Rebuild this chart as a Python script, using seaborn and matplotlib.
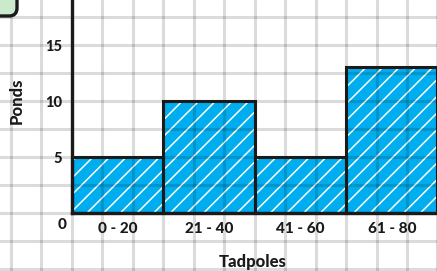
import numpy as np
import matplotlib
matplotlib.use("Agg")
import matplotlib.pyplot as plt
import seaborn as sns
from matplotlib.patches import FancyBboxPatch
from matplotlib.transforms import IdentityTransform
from matplotlib.ticker import MultipleLocator, FixedLocator

# data
bin_edges = [0, 20, 40, 60, 80]
bin_labels = ["0 - 20", "21 - 40", "41 - 60", "61 - 80"]
pond_counts = [5, 10, 5, 13]
y_major = [5, 10, 15]

sns.set_theme(style="white")
plt.rcParams["font.family"] = ["Lato", "DejaVu Sans"]
plt.rcParams["hatch.linewidth"] = 1.1

ink = "#1a1a1a"
blue = "#00adee"

fig = plt.figure(figsize=(4.37, 2.71), dpi=100)
ax = fig.add_axes([0, 0, 1, 1])
ax.set_facecolor("white")

# axes fill the whole figure so the graph paper can run edge to edge
ax.set_xlim(-15.74, 79.9)
ax.set_ylim(-5.18, 19.02)

mids = (np.array(bin_edges[:-1]) + np.array(bin_edges[1:])) / 2

# scribbled blue fill
sns.histplot(x=mids, weights=pond_counts, bins=bin_edges, ax=ax,
             color=blue, alpha=1, edgecolor="white", linewidth=0,
             hatch="//", zorder=1)

# graph paper grid (drawn semi-transparent so it darkens the fill)
cell_x = (bin_edges[1] - bin_edges[0]) / 3
for gx in np.arange(-2, 13) * cell_x:
    ax.axvline(gx, color="black", alpha=0.14, lw=2.2, zorder=2)
for gy in np.arange(-2, 8) * 2.5:
    ax.axhline(gy, color="black", alpha=0.14, lw=2.2, zorder=2)

# bar outlines
sns.histplot(x=mids, weights=pond_counts, bins=bin_edges, ax=ax,
             fill=False, element="bars", color=ink, linewidth=2.2, zorder=4)

# axes
for s in ["top", "right"]:
    ax.spines[s].set_visible(False)
ax.spines["left"].set_position(("data", 0))
ax.spines["bottom"].set_position(("data", 0))
ax.spines["left"].set_bounds(0, 19.02)
ax.spines["bottom"].set_bounds(0, 80)
for s in ["left", "bottom"]:
    ax.spines[s].set_color(ink)
    ax.spines[s].set_linewidth(2.4)
    ax.spines[s].set_zorder(5)

ax.yaxis.set_major_locator(FixedLocator(y_major))
ax.yaxis.set_minor_locator(MultipleLocator(1))
ax.set_yticklabels([str(v) for v in y_major])
ax.tick_params(axis="y", which="major", direction="out", length=5.5, width=2.6,
               color=ink, pad=1.5, labelsize=10.5, labelcolor=ink)
ax.tick_params(axis="y", which="minor", direction="out", length=4.5, width=1.6,
               color=ink)

ax.xaxis.set_major_locator(FixedLocator(bin_edges[1:-1]))
ax.xaxis.set_minor_locator(FixedLocator(mids))
ax.set_xticklabels([])
ax.set_xticklabels(bin_labels, minor=True)
ax.tick_params(axis="x", which="major", direction="out", length=5, width=2.4,
               color=ink)
ax.tick_params(axis="x", which="minor", length=0, pad=6.5, labelsize=11,
               labelcolor=ink)
for lab in ax.get_yticklabels() + ax.get_xticklabels(minor=True):
    lab.set_fontweight("black")

ax.set_xlabel("")
ax.set_ylabel("")
ax.text(-2.2, -1.05, "0", ha="center", va="center", fontsize=11,
        fontweight="black", color=ink)
ax.text(-12.0, 10, "Ponds", rotation=90, ha="center", va="center",
        fontsize=12, fontweight="black", color=ink)
ax.text(39.6, -4.35, "Tadpoles", ha="center", va="center",
        fontsize=12, fontweight="black", color=ink)

# corner decoration (green sticky box)
fig.patches.append(FancyBboxPatch((-30, 255), 47, 40,
                                  boxstyle="round,pad=0,rounding_size=8",
                                  transform=IdentityTransform(),
                                  facecolor="#cbe9cb", edgecolor=ink, lw=2.4))

fig.savefig("out.png", dpi=100)
